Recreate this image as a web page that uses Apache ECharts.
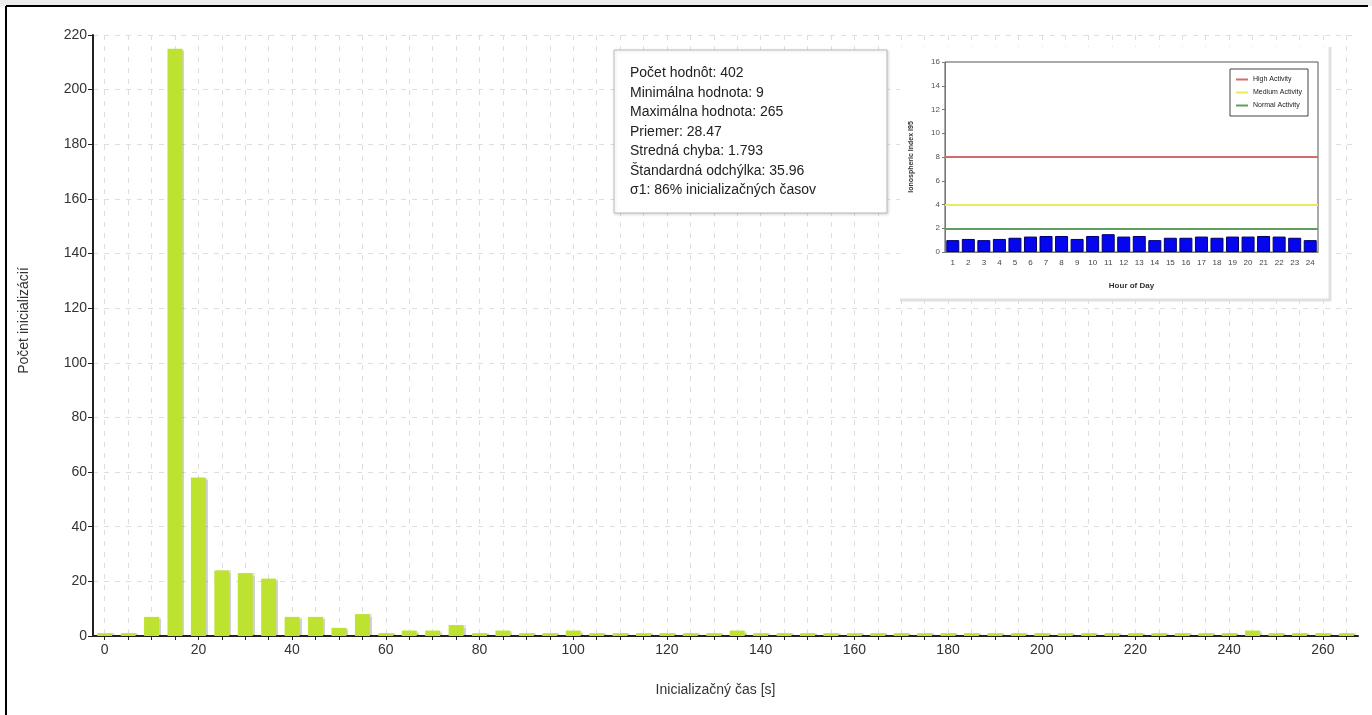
<!DOCTYPE html>
<html>
<head>
<meta charset="utf-8">
<script src="https://cdn.jsdelivr.net/npm/echarts@6/dist/echarts.min.js"></script>
<style>
html,body{margin:0;padding:0;background:#fff;}
#c{width:1372px;height:715px;}
</style>
</head>
<body>
<div id="c"></div>
<script>
// ---- main histogram data ----
const binCenters = ['0','5','10','15','20','25','30','35','40','45','50','55','60','65','70','75','80','85','90','95',
  '100','105','110','115','120','125','130','135','140','145','150','155','160','165','170','175','180','185','190','195',
  '200','205','210','215','220','225','230','235','240','245','250','255','260','265'];
const counts = [1,1,7,215,58,24,23,21,7,7,
  3,8,1,2,2,4,1,2,1,1,
  2,1,1,1,1,1,1,2,1,1,
  1,1,1,1,1,1,1,1,1,1,
  1,1,1,1,1,1,1,1,1,2,
  1,1,1,1];
const xTitle = 'Inicializačný čas [s]';
const yTitle = 'Počet inicializácií';
const statsLines = [
  'Počet hodnôt: 402',
  'Minimálna hodnota: 9',
  'Maximálna hodnota: 265',
  'Priemer: 28.47',
  'Stredná chyba: 1.793',
  'Štandardná odchýlka: 35.96',
  'σ1: 86% inicializačných časov'
];
// ---- inset chart data ----
const hours = ['1','2','3','4','5','6','7','8','9','10','11','12','13','14','15','16','17','18','19','20','21','22','23','24'];
const ionoIndex = [1.0,1.1,1.0,1.1,1.2,1.3,1.35,1.35,1.1,1.35,1.5,1.3,1.35,1.0,1.2,1.2,1.3,1.2,1.3,1.3,1.35,1.3,1.2,1.0];
const thresholdNames = ['High Activity','Medium Activity','Normal Activity'];
const thresholdValues = [8,4,2];
const thresholdColors = ['#d46a6a','#eaea5a','#5e9e5e'];

const FONT = '"Liberation Sans", Arial, sans-serif';
const chart = echarts.init(document.getElementById('c'), null, {renderer:'canvas'});

const thresholdSeries = thresholdNames.map((n,i)=>({
  name: n, type: 'line', xAxisIndex: 1, yAxisIndex: 1, data: [], z: 5,
  color: thresholdColors[i],
  lineStyle: {color: thresholdColors[i], width: 2},
  markLine: {
    silent: true, symbol: 'none', label: {show:false},
    lineStyle: {color: thresholdColors[i], width: 2, type: 'solid'},
    data: [{yAxis: thresholdValues[i]}]
  }
}));

const option = {
  backgroundColor: '#fff',
  animation: false,
  textStyle: {fontFamily: FONT},
  grid: [
    {left: 93, right: 14, top: 35, bottom: 79, containLabel: false},
    {left: 945, right: 54, top: 62, bottom: 463, show: true, borderColor: '#555', borderWidth: 1, backgroundColor: '#fff', z: 2}
  ],
  legend: {
    data: thresholdNames, orient: 'vertical', left: 1230, top: 69,
    icon: 'rect', itemWidth: 12, itemHeight: 2, itemGap: 6,
    padding: [7, 6, 7, 6], borderColor: '#444', borderWidth: 1, backgroundColor: '#fff',
    textStyle: {fontSize: 7, color: '#222', fontFamily: FONT}, z: 6
  },
  xAxis: [
    {
      type: 'category', gridIndex: 0, data: binCenters, boundaryGap: true,
      axisLine: {lineStyle: {color: '#222', width: 2}},
      axisTick: {show: true, interval: 0, alignWithLabel: true, length: 4, lineStyle: {color: '#222'}},
      axisLabel: {interval: 3, color: '#333', fontSize: 14, margin: 7},
      splitLine: {show: true, interval: 0, alignWithLabel: true, lineStyle: {color: '#dedede', type: [5,6], width: 1}},
      name: xTitle, nameLocation: 'middle', nameGap: 47,
      nameTextStyle: {fontSize: 14, color: '#333', padding: [0,20,0,0]}
    },
    {
      type: 'category', gridIndex: 1, data: hours, z: 3,
      axisLine: {lineStyle: {color: '#777'}},
      axisTick: {show: false},
      axisLabel: {interval: 0, color: '#444', fontSize: 8, margin: 7},
      name: 'Hour of Day', nameLocation: 'middle', nameGap: 30,
      nameTextStyle: {fontSize: 8, fontWeight: 'bold', color: '#333'}
    }
  ],
  yAxis: [
    {
      type: 'value', gridIndex: 0, min: 0, max: 220, interval: 20,
      axisLine: {show: true, lineStyle: {color: '#222', width: 2}},
      axisTick: {show: true, length: 5, lineStyle: {color: '#222'}},
      axisLabel: {color: '#333', fontSize: 14, margin: 6},
      splitLine: {show: true, lineStyle: {color: '#dedede', type: [5,6], width: 1}},
      name: yTitle, nameLocation: 'middle', nameGap: 62, nameRotate: 90,
      nameTextStyle: {fontSize: 14, color: '#333', padding: [0,0,0,30]}
    },
    {
      type: 'value', gridIndex: 1, min: 0, max: 16, interval: 2, z: 3,
      axisLine: {show: true, lineStyle: {color: '#777'}},
      axisTick: {show: true, length: 3, lineStyle: {color: '#777'}},
      axisLabel: {color: '#555', fontSize: 8, margin: 5},
      splitLine: {show: false},
      name: 'Ionospheric Index I95', nameLocation: 'middle', nameGap: 30,
      nameTextStyle: {fontSize: 7, fontWeight: 'bold', color: '#333'}
    }
  ],
  series: [
    {
      type: 'bar', xAxisIndex: 0, yAxisIndex: 0, data: counts, barWidth: 15, z: 2,
      itemStyle: {color: '#bde22f', shadowColor: 'rgba(0,0,0,0.18)', shadowOffsetX: 2, shadowOffsetY: 0, shadowBlur: 1}
    },
    {
      type: 'bar', xAxisIndex: 1, yAxisIndex: 1, data: ionoIndex, barWidth: 13, z: 4,
      itemStyle: {color: '#0606ee', borderColor: '#00006e', borderWidth: 1}
    }
  ].concat(thresholdSeries),
  graphic: [
    {type: 'rect', z: 100, silent: true, shape: {x: 0, y: 0, width: 1372, height: 6}, style: {fill: '#ececec'}},
    {type: 'line', z: 100, silent: true, shape: {x1: 6, y1: 6, x2: 1368, y2: 6}, style: {stroke: '#000', lineWidth: 2}},
    {type: 'line', z: 100, silent: true, shape: {x1: 6, y1: 6, x2: 6, y2: 715}, style: {stroke: '#000', lineWidth: 2}},
    {type: 'rect', z: 1, silent: true, shape: {x: 900, y: 47, width: 430, height: 254},
      style: {fill: '#fff'}},
    {type: 'line', z: 1, silent: true, shape: {x1: 900, y1: 300, x2: 1331, y2: 300}, style: {stroke: '#e0e0e0', lineWidth: 3}},
    {type: 'line', z: 1, silent: true, shape: {x1: 1330, y1: 47, x2: 1330, y2: 301}, style: {stroke: '#e0e0e0', lineWidth: 3}},
    {type: 'rect', z: 10, silent: true, shape: {x: 614, y: 50, width: 273, height: 163},
      style: {fill: '#fff', stroke: '#bbb', lineWidth: 1, shadowColor: 'rgba(0,0,0,0.15)', shadowBlur: 3, shadowOffsetX: 1, shadowOffsetY: 1}},
    {type: 'text', z: 11, silent: true, x: 630, y: 63.5,
      style: {text: statsLines.join('\n'), font: '14px ' + FONT, fill: '#222', lineHeight: 19.5}}
  ]
};
chart.setOption(option);
</script>
</body>
</html>
